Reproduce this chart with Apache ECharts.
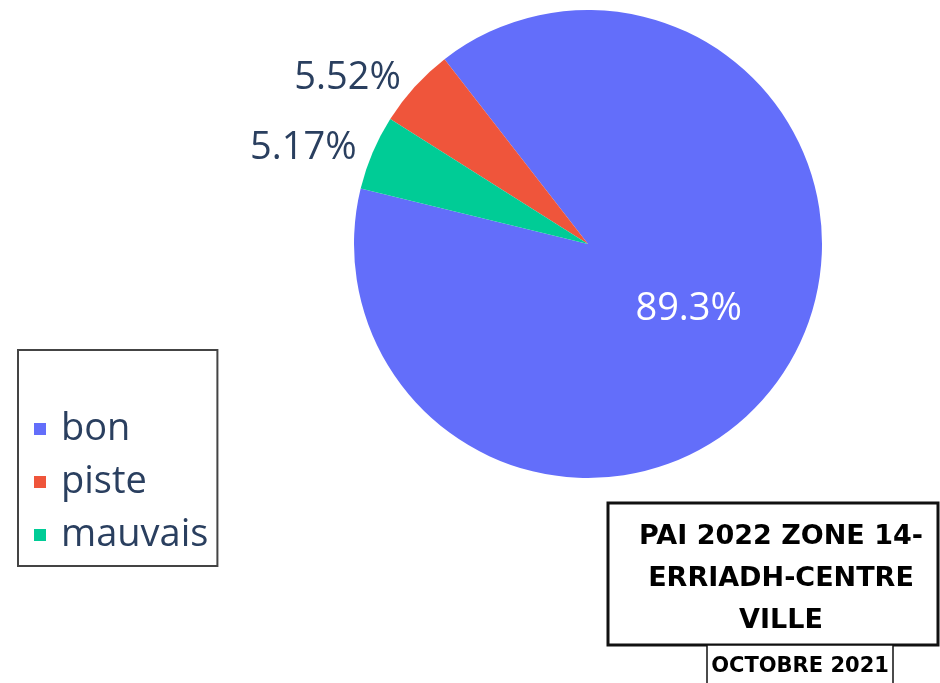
<!DOCTYPE html>
<html>
<head>
<meta charset="utf-8">
<script src="https://cdn.jsdelivr.net/npm/echarts@6/dist/echarts.min.js"></script>
<style>
  html, body { margin: 0; padding: 0; background: #ffffff; }
  #chart { width: 940px; height: 683px; }
</style>
</head>
<body>
<div id="chart"></div>
<script>
// Road condition shares
const categories = ['bon', 'piste', 'mauvais'];
const shares = [89.31, 5.52, 5.17];
const colors = ['#636efa', '#EF553B', '#00cc96'];
const titleLines = ['PAI 2022 ZONE 14-', 'ERRIADH-CENTRE', 'VILLE'];
const dateLabel = 'OCTOBRE 2021';

const chart = echarts.init(document.getElementById('chart'));

const pieData = categories.map((name, i) => ({
  name: name,
  value: shares[i],
  itemStyle: { color: colors[i] },
  label: i === 0
    ? { position: 'inside', color: '#ffffff', padding: [16, 0, 0, 0] }
    : { position: 'outside', color: '#2a3f5f', padding: [4, 0, 0, 0] }
}));

chart.setOption({
  animation: false,
  backgroundColor: '#ffffff',
  legend: {
    data: categories,
    orient: 'vertical',
    left: 18,
    top: 350,
    icon: 'rect',
    itemWidth: 12,
    itemHeight: 12,
    itemGap: 15,
    padding: [60, 9, 12, 16],
    borderColor: '#444444',
    borderWidth: 2,
    textStyle: { fontFamily: 'Open Sans', fontSize: 38, color: '#2a3f5f', padding: [0, 0, 0, 10] }
  },
  series: [{
    type: 'pie',
    center: [588, 244],
    radius: 234,
    startAngle: 166.3,
    clockwise: false,
    avoidLabelOverlap: false,
    label: {
      fontFamily: 'Open Sans',
      fontSize: 38,
      formatter: p => Number(p.value).toPrecision(3) + '%'
    },
    labelLine: { show: false, length: 12, length2: 0 },
    emphasis: { disabled: true },
    data: pieData
  }],
  graphic: [
    {
      type: 'rect',
      shape: { x: 608, y: 503, width: 330, height: 142 },
      style: { fill: '#ffffff', stroke: '#111111', lineWidth: 3 }
    },
    {
      type: 'text',
      x: 781,
      y: 579,
      style: {
        text: titleLines.join('\n'),
        fontFamily: 'DejaVu Sans',
        fontWeight: 'bold',
        fontSize: 27,
        lineHeight: 42,
        fill: '#000000',
        align: 'center',
        verticalAlign: 'middle'
      }
    },
    {
      type: 'rect',
      shape: { x: 707, y: 645, width: 186, height: 50 },
      style: { fill: '#ffffff', stroke: '#111111', lineWidth: 1.5 }
    },
    {
      type: 'text',
      x: 800,
      y: 667,
      style: {
        text: dateLabel,
        fontFamily: 'DejaVu Sans',
        fontWeight: 'bold',
        fontSize: 21,
        fill: '#000000',
        align: 'center',
        verticalAlign: 'middle'
      }
    }
  ]
});
</script>
</body>
</html>
